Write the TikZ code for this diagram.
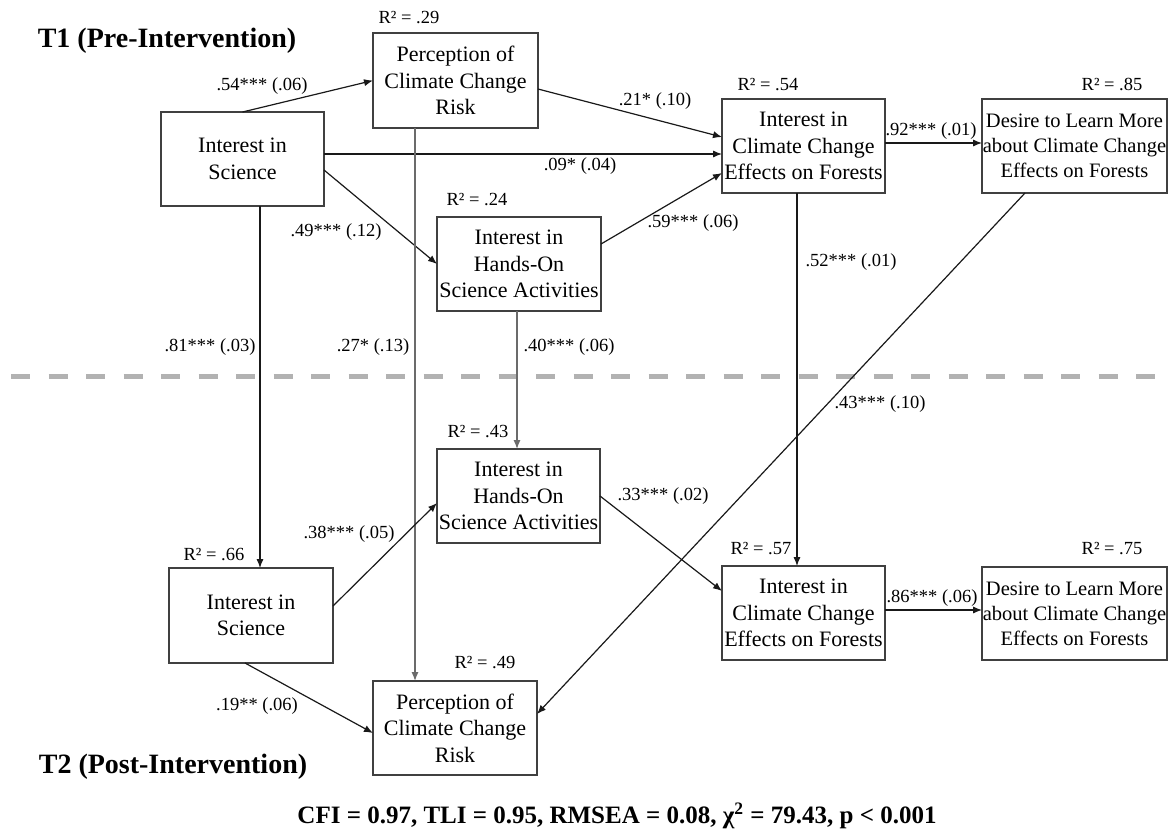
\documentclass[tikz,border=0pt]{standalone}
\usepackage{fontspec}
\setmainfont{Liberation Serif}
\usetikzlibrary{arrows.meta}
\begin{document}
\begin{tikzpicture}[x=0.5pt,y=-0.5pt,
  box/.style={draw=black!75, line width=0.8pt, fill=white, rectangle,
    inner sep=0pt, outer sep=0pt, align=center,
    minimum width=81.5pt, minimum height=47pt,
    font=\fontsize{11}{13.25}\selectfont},
  dbox/.style={box, minimum width=92.5pt, font=\fontsize{10.25}{12.6}\selectfont},
  coef/.style={anchor=base, inner sep=0pt, font=\fontsize{9.25}{11}\selectfont},
  arr/.style={-{Latex[length=4.5pt,width=3.6pt]}, line width=0.6pt, black!90},
  garr/.style={arr, line width=0.7pt, black!58},
  heading/.style={anchor=base, inner sep=0pt, font=\fontsize{14}{16}\selectfont\bfseries},
  divider/.style={line width=2.5pt, black!30, dash pattern=on 9.5pt off 9.25pt},
]
\useasboundingbox (0,0) rectangle (1168,832);

% time divider
\coordinate (divL) at (11,376);
\coordinate (divR) at (1168,376);
\draw[divider] (divL) -- (divR);

% T1 constructs
\node[box] (isA) at (242.5,159) {Interest in\\Science};
\node[box, minimum width=82.5pt, minimum height=47.5pt] (percA) at (455.5,80.5) {Perception of\\Climate Change\\Risk};
\node[box] (iccA) at (803.5,146) {Interest in\\Climate Change\\Effects on Forests};
\node[dbox] (desA) at (1074.5,146) {Desire to Learn More\\about Climate Change\\Effects on Forests};
\node[box, minimum width=82pt] (handsA) at (519,264) {Interest in\\Hands-On\\Science Activities};

% T2 constructs
\node[box] (handsB) at (518.5,496) {Interest in\\Hands-On\\Science Activities};
\node[box, minimum width=82pt, minimum height=47.5pt] (isB) at (251,615.5) {Interest in\\Science};
\node[box] (iccB) at (803.5,613) {Interest in\\Climate Change\\Effects on Forests};
\node[dbox, minimum height=46.5pt] (desB) at (1074.5,613.5) {Desire to Learn More\\about Climate Change\\Effects on Forests};
\node[box, minimum width=82pt] (percB) at (455,728) {Perception of\\Climate Change\\Risk};

% paths
\draw[arr] (isA.north) -- (percA.west);
\draw[arr] ([yshift=-4.25pt]percA.east) -- ([yshift=4.5pt]iccA.west);
\draw[arr] ([yshift=2.5pt]isA.east) -- ([yshift=-4pt]iccA.west);
\draw[arr] ([yshift=-5.5pt]isA.east) -- (handsA.west);
\draw[arr] ([yshift=10pt]handsA.east) -- ([yshift=-13.5pt]iccA.west);
\draw[arr] ([yshift=1.5pt]iccA.east) -- ([yshift=1.5pt]desA.west);
\draw[arr] ([xshift=8.75pt]isA.south) -- ([xshift=8.75pt]isA.south |- isB.north);
\draw[garr] ([xshift=-20.25pt]percA.south) -- ([xshift=-20.25pt]percA.south |- percB.north);
\draw[garr] ([xshift=-1pt]handsA.south) -- ([xshift=-1pt]handsA.south |- handsB.north);
\draw[arr] ([xshift=-3.25pt]iccA.south) -- ([xshift=-3.25pt]iccA.south |- iccB.north);
\draw[arr] ([xshift=-24.75pt]desA.south) -- ([yshift=7pt]percB.east);
\draw[arr] ([yshift=4.75pt]isB.east) -- ([yshift=-3.5pt]handsB.west);
\draw[arr] (handsB.east) -- ([yshift=11pt]iccB.west);
\draw[arr] ([xshift=-3pt]isB.south) -- ([yshift=-2.5pt]percB.west);
\draw[arr] ([yshift=1.5pt]iccB.east) -- ([yshift=1.5pt]iccB.east -| desB.west);

% explained variance
\node[coef] (r1) at (409,23) {R² = .29};
\node[coef] (r2) at (768,90) {R² = .54};
\node[coef] (r3) at (1112,90) {R² = .85};
\node[coef] (r4) at (477,205) {R² = .24};
\node[coef] (r5) at (478,437) {R² = .43};
\node[coef] (r6) at (761,554) {R² = .57};
\node[coef] (r7) at (1112,554) {R² = .75};
\node[coef] (r8) at (214,560) {R² = .66};
\node[coef] (r9) at (485,668) {R² = .49};

% path coefficients
\node[coef] (c1) at (262,90) {.54*** (.06)};
\node[coef] (c2) at (655,105) {.21* (.10)};
\node[coef] (c3) at (580,170) {.09* (.04)};
\node[coef] (c4) at (693,227) {.59*** (.06)};
\node[coef] (c5) at (336,236) {.49*** (.12)};
\node[coef] (c6) at (931,135) {.92*** (.01)};
\node[coef] (c7) at (851,266) {.52*** (.01)};
\node[coef] (c8) at (210,351) {.81*** (.03)};
\node[coef] (c9) at (373,351) {.27* (.13)};
\node[coef] (c10) at (569,351) {.40*** (.06)};
\node[coef] (c11) at (880,408) {.43*** (.10)};
\node[coef] (c12) at (663,500) {.33*** (.02)};
\node[coef] (c13) at (932,602) {.86*** (.06)};
\node[coef] (c14) at (349,538) {.38*** (.05)};
\node[coef] (c15) at (257,710) {.19** (.06)};

% headings and fit indices
\node[heading] (t1) at (167,47) {T1 (Pre-Intervention)};
\node[heading] (t2) at (173,773) {T2 (Post-Intervention)};
\node[heading, font=\fontsize{12.5}{15}\selectfont\bfseries] (fit) at (617,823)
  {CFI = 0.97, TLI = 0.95, RMSEA = 0.08, χ\textsuperscript{2} = 79.43, p < 0.001};
\end{tikzpicture}
\end{document}
